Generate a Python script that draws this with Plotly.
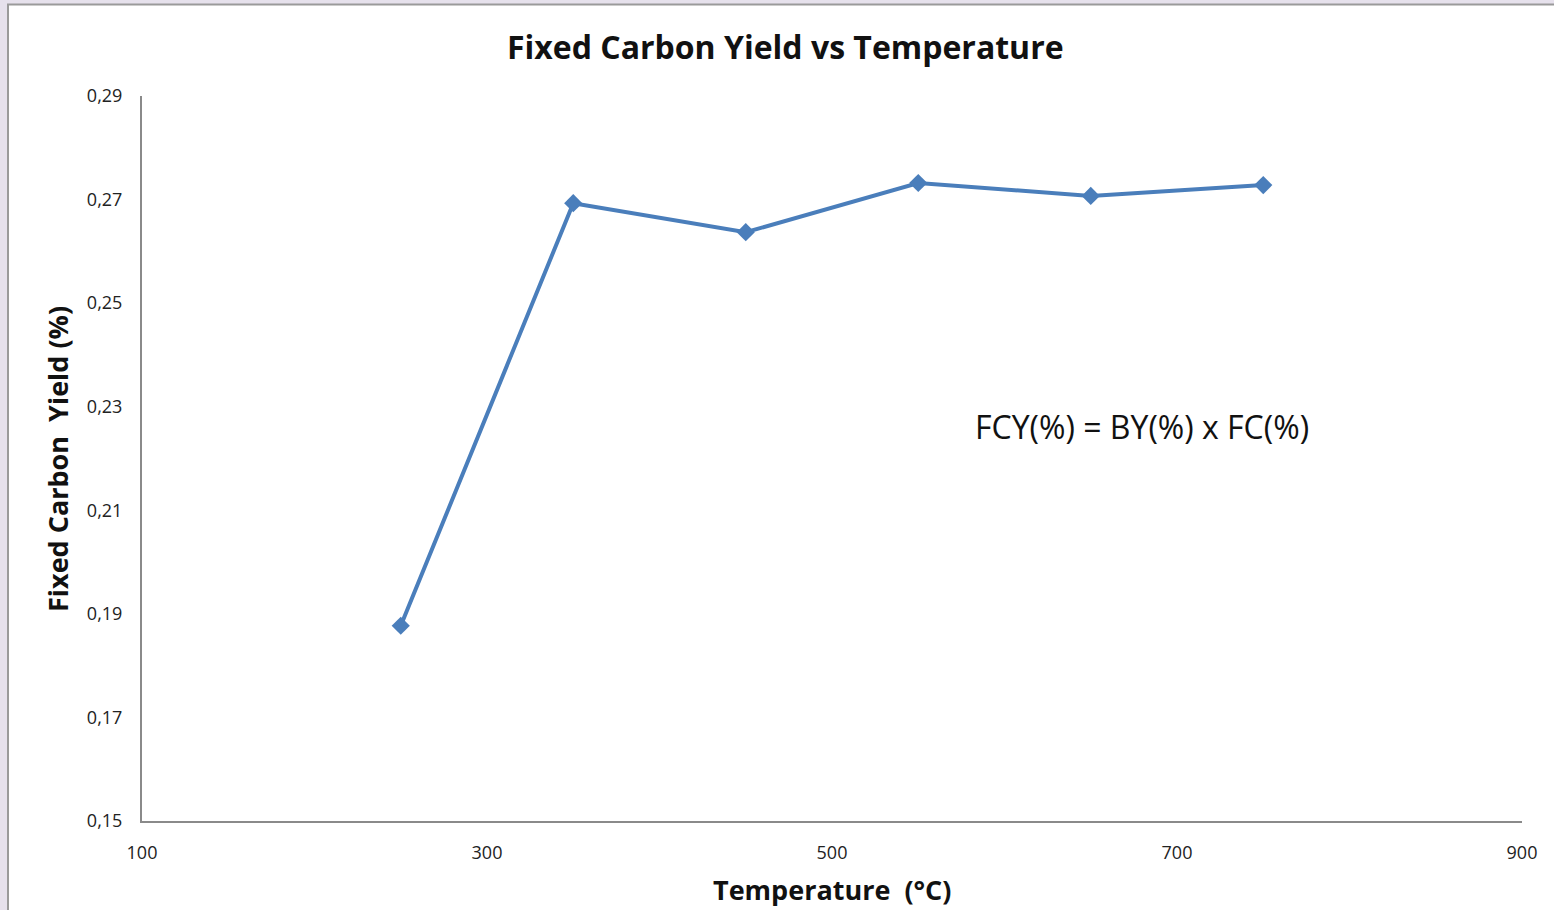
import plotly.graph_objects as go

temperature = [250, 350, 450, 550, 650, 750]
fixed_carbon_yield = [0.1877, 0.2693, 0.2637, 0.2732, 0.2707, 0.2728]
x_ticks = [100, 300, 500, 700, 900]
y_ticks = [0.15, 0.17, 0.19, 0.21, 0.23, 0.25, 0.27, 0.29]

W, H = 1554, 910
L, R, T, B = 142, 32, 96, 89
PW, PH = W - L - R, H - T - B

def px(x):
    return (x - L) / PW

def py(y):
    return (H - B - y) / PH

fig = go.Figure()
fig.add_trace(go.Scatter(
    x=temperature, y=fixed_carbon_yield, mode="lines+markers",
    line=dict(color="#4A7EBB", width=4),
    marker=dict(symbol="diamond", size=14, color="#4A7EBB"),
    showlegend=False,
))

fig.update_layout(
    width=W, height=H,
    margin=dict(l=L, r=R, t=T, b=B),
    paper_bgcolor="#E6E1EC",
    plot_bgcolor="white",
    separators=",.",
    font=dict(family="Open Sans", color="#1a1a1a"),
    shapes=[
        dict(type="rect", xref="paper", yref="paper", layer="below",
             x0=px(8), x1=px(1600), y0=py(960), y1=py(4.5),
             fillcolor="white", line=dict(color="#9a9a9a", width=2)),
    ],
    annotations=[
        dict(text="<b>Fixed Carbon Yield vs Temperature</b>", xref="paper", yref="paper",
             x=px(785), y=py(47), xanchor="center", yanchor="middle", showarrow=False,
             font=dict(size=32, family="Open Sans", color="#111")),
        dict(text="<b>Temperature  (°C)</b>", xref="paper", yref="paper",
             x=px(832), y=py(889), xanchor="center", yanchor="middle", showarrow=False,
             font=dict(size=27, family="Open Sans", color="#111")),
        dict(text="<b>Fixed Carbon  Yield (%)</b>", xref="paper", yref="paper",
             x=px(57), y=py(459), xanchor="center", yanchor="middle", showarrow=False,
             textangle=-90, font=dict(size=27, family="Open Sans", color="#111")),
        dict(text="FCY(%) = BY(%) x FC(%)", xref="paper", yref="paper",
             x=px(973), y=py(427), xanchor="left", yanchor="middle", showarrow=False,
             font=dict(size=32, family="Open Sans", color="#111")),
    ],
)

fig.update_xaxes(range=[100, 900], tickvals=x_ticks, showgrid=False, zeroline=False,
                 showline=True, linecolor="#8a8a8a", linewidth=2, ticks="",
                 tickfont=dict(size=18, family="Open Sans", color="#222"), ticklabelstandoff=14)
fig.update_yaxes(range=[0.15, 0.29], tickvals=y_ticks, tickformat=".2f", showgrid=False,
                 zeroline=False, showline=True, linecolor="#8a8a8a", linewidth=2, ticks="",
                 tickfont=dict(size=18, family="Open Sans", color="#222"), ticklabelstandoff=14)

fig.write_html("out.html", config={"displayModeBar": False},
               post_script="document.body.style.margin='0';document.body.style.overflow='hidden';")
